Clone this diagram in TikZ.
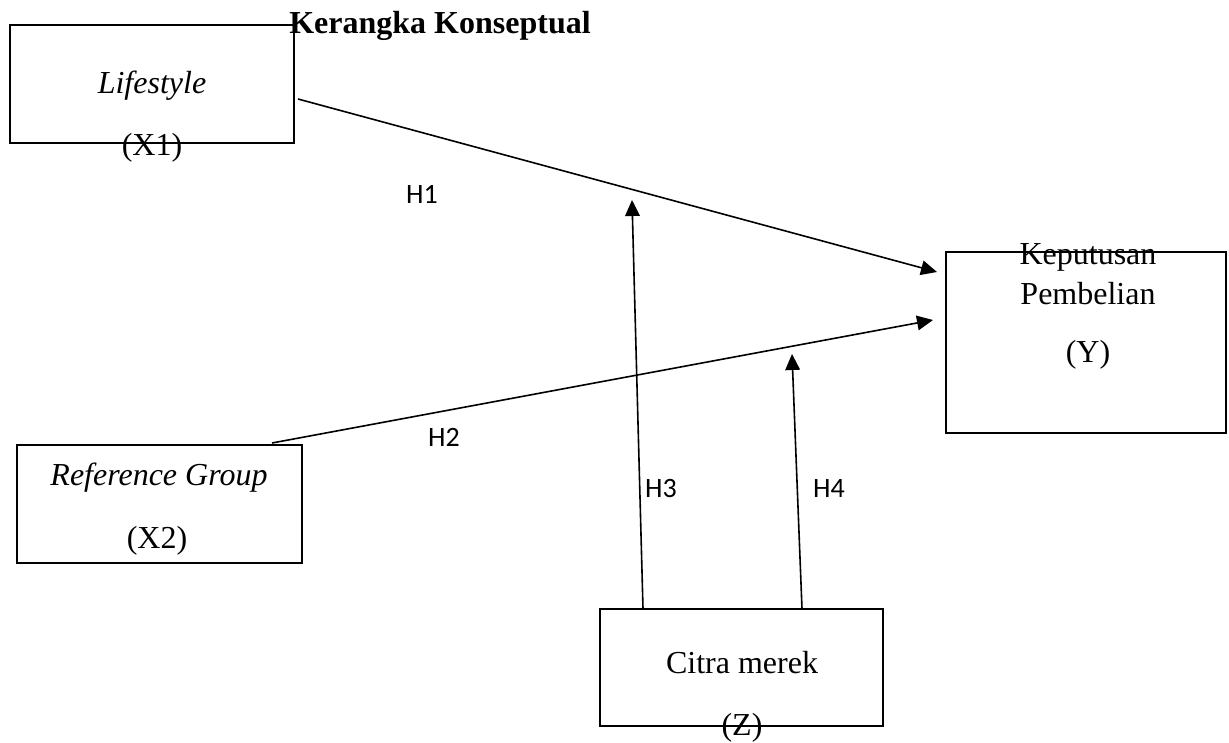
\documentclass[tikz,border=0pt]{standalone}
\usepackage{fontspec}
\setmainfont{Liberation Serif}
\newfontfamily\hfont{Carlito}
\usetikzlibrary{arrows.meta}
\tikzset{
  box/.style={draw, line width=0.85pt, rectangle, inner sep=0pt, outer sep=0pt},
  txt/.style={inner sep=0pt, anchor=base, font=\fontsize{12}{14}\selectfont},
  hlab/.style={inner sep=0pt, anchor=base, font=\hfont\fontsize{10.5}{12}\selectfont},
  conn/.style={line width=0.6pt, -{Triangle[length=6pt, width=5.5pt]}}
}
\begin{document}
\begin{tikzpicture}[x=0.375pt, y=-0.375pt]
\useasboundingbox (0,0) rectangle (1229,742);
% boxes
\node[box, minimum width=106.5pt, minimum height=44.25pt] (ls) at (152,84) {};
\node[box, minimum width=105pt, minimum height=67.875pt] (kp) at (1086,342.5) {};
\node[box, minimum width=106.875pt, minimum height=44.25pt] (rg) at (159.5,504) {};
\node[box, minimum width=106.125pt, minimum height=43.875pt] (cm) at (741.5,667.5) {};
% texts
\node[txt, font=\fontsize{12}{14}\selectfont\bfseries] (title) at (440,33) {Kerangka Konseptual};
\node[txt] (lst) at (152,93) {\itshape Lifestyle};
\node[txt] (x1) at (152,155) {(X1)};
\node[txt] (kp1) at (1088,264) {Keputusan};
\node[txt] (kp2) at (1088,304) {Pembelian};
\node[txt] (kpy) at (1088,362) {(Y)};
\node[txt] (rgt) at (159,485) {\itshape Reference Group};
\node[txt] (x2) at (157,548) {(X2)};
\node[txt] (cmt) at (742,673) {Citra merek};
\node[txt] (z) at (742,735) {(Z)};
% labels
\node[hlab] (h1) at (422,203) {H1};
\node[hlab] (h2) at (444,446) {H2};
\node[hlab] (h3) at (661,497) {H3};
\node[hlab] (h4) at (829,497) {H4};
% connector ends
\coordinate (h1s) at (298,99);
\coordinate (h1e) at (937,272);
\coordinate (h2s) at (272,443);
\coordinate (h2e) at (933,320);
\coordinate (h3s) at (643,609);
\coordinate (h3e) at (632,200);
\coordinate (h4s) at (802,609);
\coordinate (h4e) at (792,354);
\draw[conn] (h1s) -- (h1e);
\draw[conn] (h2s) -- (h2e);
\draw[conn] (h3s) -- (h3e);
\draw[conn] (h4s) -- (h4e);
\end{tikzpicture}
\end{document}
